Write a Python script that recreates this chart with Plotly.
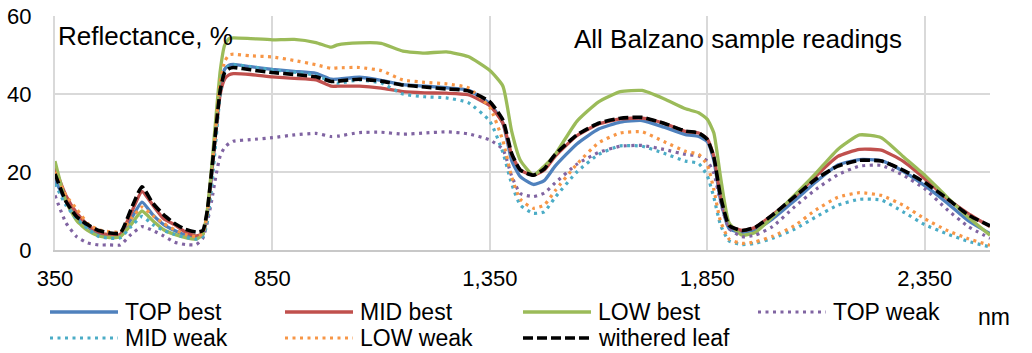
import plotly.graph_objects as go

# Wavelength grid, nm
wavelength = [350, 375, 400, 425, 450, 475, 500, 525, 550, 575, 600, 625, 650, 675,
              690, 700, 710, 720, 730, 740, 750,
              760, 800, 850, 900, 950, 985, 1000, 1050, 1100, 1150, 1200, 1250, 1300,
              1350, 1380, 1400, 1420, 1450, 1475, 1500, 1550, 1600, 1650, 1700, 1750,
              1800, 1830, 1850, 1865, 1880, 1900, 1930, 1960, 2000, 2050, 2100, 2150,
              2200, 2250, 2300, 2350, 2400, 2450, 2500]

# Reflectance, % — one list per sample
top_best = [18, 12.5, 8.5, 6, 4.2, 3.5, 3.6, 8, 12.3, 9, 6.5, 5, 3.8, 3.3,
            4, 9, 19, 31, 42, 46.3, 47.4,
            47.6, 47, 46.3, 45.8, 45.3, 43.8, 43.8, 44.3, 43.5, 42.4, 42, 41.6, 41,
            37.5, 32.5, 23, 18.8, 16.8, 17.8, 21.5, 27.2, 31, 32.8, 33.2, 31.5,
            29.6, 29.1, 27.8, 23, 13, 5.5, 4.5, 5.2, 8, 12.6, 17.5, 21.8,
            23.2, 22.9, 20.2, 16.5, 12.2, 7.5, 4.2]

mid_best = [21, 14, 9.5, 6.5, 4.6, 3.9, 4, 9.5, 15, 11.5, 8, 6.5, 4.6, 3.6,
            4.2, 9.5, 19.5, 30.5, 40, 43.8, 44.9,
            45.2, 45, 44.4, 44, 43.6, 42, 42, 42, 41.5, 40.6, 40.3, 40.2, 39.8,
            37, 32.5, 24.5, 20.5, 19.2, 20.5, 24, 29.3, 32.3, 33.6, 33.8, 32.5,
            30.4, 30, 28.5, 24, 14, 6.3, 5, 5.8, 9, 13.6, 19, 24,
            25.8, 25.6, 22.8, 18.3, 13.3, 9.3, 6]

low_best = [22.8, 12.5, 7.5, 5, 3.6, 3.2, 3.4, 6.5, 10, 7.5, 5.2, 4, 3.2, 2.8,
            4, 10, 21, 34, 46, 52.5, 54.2,
            54.4, 54.2, 53.9, 54, 53.2, 52, 52.6, 53.1, 53, 51, 50.5, 50.8, 49.6,
            46, 42, 30.5, 23, 19.2, 21.5, 24.5, 33, 38, 40.6, 40.9, 38.8,
            36.2, 35.2, 33.5, 30, 19, 7, 3.8, 4.5, 8.5, 14, 19.7, 25.8,
            29.5, 28.8, 24, 19.2, 13.7, 8.4, 3.8]

top_weak = [14, 7, 3.4, 1.8, 1.3, 1.3, 1.3, 4, 6, 5, 3.6, 2, 1.4, 1.4,
            3, 7, 12.5, 19, 24.2, 26.3, 27.3,
            27.9, 28.3, 28.8, 29.5, 29.9, 29.1, 29.2, 30.1, 30.2, 29.7, 30, 30.3, 29.8,
            28.2, 25.8, 19, 14.5, 13.7, 14.6, 17.2, 22, 25, 26.6, 26.8, 25.8,
            24.5, 24.1, 22.8, 19.7, 12.5, 5.5, 3.4, 3.8, 6, 11, 15.6, 19.3,
            21.5, 21.7, 19.2, 15.7, 10.5, 6, 3]

mid_weak = [17, 11.5, 8, 5.5, 3.5, 3, 3.1, 6, 8.6, 6.5, 5, 4, 3.2, 2.8,
            3.5, 7, 16, 28, 40, 45.5, 47.2,
            47.5, 47, 46.2, 45.6, 44.8, 43.2, 42.8, 43.6, 42.8, 40, 39.3, 39, 37.8,
            33, 25, 17, 11.5, 9.4, 9.8, 13.5, 20, 24.5, 26.7, 26.6, 24.8,
            22.8, 22.2, 19, 13.5, 6.5, 2.3, 1.4, 1.7, 3, 5.3, 8.5, 11.5,
            13, 12.8, 9.8, 6.5, 4.2, 2.2, 0.8]

low_weak = [20, 14, 10.5, 6.8, 5.2, 4.7, 4.6, 8, 11, 8.8, 6.8, 5.2, 4, 3.4,
            4.2, 9, 19.5, 31.5, 43, 48.3, 50,
            50.2, 49.8, 49.5, 48.6, 47.5, 46.6, 46.7, 46.8, 46, 43.6, 43, 42.6, 41.6,
            36.5, 28, 18.8, 13, 10.7, 11.5, 15.2, 22, 27.5, 30, 30.3, 27.8,
            25.3, 24.5, 21.8, 15.5, 7.5, 2.8, 1.7, 2.1, 3.5, 6.2, 10.3, 13.5,
            14.7, 14, 11.5, 8, 5.1, 2.9, 1.2]

withered_leaf = [19.5, 12.5, 8.5, 6.5, 5, 4.4, 4.3, 10.5, 16.2, 12, 9, 6.8, 5.3, 4.6,
                 5, 10, 20, 31, 41, 45.5, 46.5,
                 46.8, 46.2, 45.5, 45, 44.4, 43.2, 43.3, 43.8, 43.3, 42.3, 41.8, 41.3, 40.8,
                 38, 33.3, 24.8, 20.5, 19.2, 20.8, 24.5, 29.5, 32.5, 33.8, 34, 32.5,
                 30.5, 30, 28.3, 23.8, 14, 6.3, 5, 5.8, 9, 13.6, 18.2, 21.5,
                 23, 22.8, 20.5, 17.3, 13.3, 9, 6.2]

series_names = ["TOP best", "MID best", "LOW best", "TOP weak",
                "MID weak", "LOW weak", "withered leaf"]
x_ticks = [350, 850, 1350, 1850, 2350]
y_ticks = [0, 20, 40, 60]

series_values = [top_best, mid_best, low_best, top_weak, mid_weak, low_weak, withered_leaf]
for vals in series_values:
    assert len(vals) == len(wavelength)

styles = [
    dict(color="#4F81BD", width=3.3, dash="solid"),
    dict(color="#C0504D", width=3.3, dash="solid"),
    dict(color="#9BBB59", width=3.3, dash="solid"),
    dict(color="#8064A2", width=3.2, dash="3px,4.5px"),
    dict(color="#4BACC6", width=3.2, dash="3px,4.5px"),
    dict(color="#F79646", width=3.2, dash="3px,4.5px"),
    dict(color="#000000", width=3.6, dash="10px,4px"),
]

W, H = 1032, 353
L, R, T, B = 55, 42, 16, 103
PW, PH = W - L - R, H - T - B
FONT = "Liberation Sans, Arial, sans-serif"


def xp(px):
    return (px - L) / PW


def yp(py):
    return (H - B - py) / PH


fig = go.Figure()
for name, vals, st in zip(series_names, series_values, styles):
    fig.add_trace(go.Scatter(
        x=wavelength, y=vals, name=name, mode="lines",
        line=dict(color=st["color"], width=st["width"], dash=st["dash"],
                  shape="spline", smoothing=0.5),
        showlegend=False,
    ))

# Legend drawn as two rows of sample lines and labels below the axis
legend_cols = [50, 285, 523, 758]
legend_rows = [312, 338]
shapes = []
annotations = []
for i, (name, st) in enumerate(zip(series_names, styles)):
    row, col = divmod(i, 4)
    x0 = legend_cols[col]
    yy = legend_rows[row]
    shapes.append(dict(type="line", xref="paper", yref="paper",
                       x0=xp(x0), x1=xp(x0 + 68), y0=yp(yy), y1=yp(yy),
                       line=dict(color=st["color"], width=st["width"], dash=st["dash"])))
    annotations.append(dict(text=name, xref="paper", yref="paper",
                            x=xp(x0 + 73), y=yp(yy), xanchor="left", yanchor="middle",
                            showarrow=False, font=dict(family=FONT, size=23, color="#000")))

annotations.append(dict(text="nm", xref="paper", yref="paper",
                        x=xp(976), y=yp(317), xanchor="left", yanchor="middle",
                        showarrow=False, font=dict(family=FONT, size=23, color="#000")))
annotations.append(dict(text="Reflectance, %", xref="paper", yref="paper",
                        x=xp(56), y=yp(36), xanchor="left", yanchor="middle",
                        showarrow=False, font=dict(family=FONT, size=26, color="#000")))
annotations.append(dict(text="All Balzano sample readings", xref="paper", yref="paper",
                        x=xp(572), y=yp(38.5), xanchor="left", yanchor="middle",
                        showarrow=False, font=dict(family=FONT, size=26, color="#000")))

fig.update_layout(
    width=W, height=H,
    margin=dict(l=L, r=R, t=T, b=B, pad=0, autoexpand=False),
    paper_bgcolor="white", plot_bgcolor="white",
    showlegend=False,
    font=dict(family=FONT, size=22, color="#000"),
    shapes=shapes, annotations=annotations,
)
fig.update_xaxes(
    range=[350, 2500], tickvals=x_ticks, tickformat=",d",
    showgrid=True, gridcolor="#D9D9D9", gridwidth=2,
    showline=True, linecolor="#C8C8C8", linewidth=2,
    zeroline=False, ticks="", ticklabelstandoff=8, automargin=False,
    tickfont=dict(family=FONT, size=22, color="#000"),
)
fig.update_yaxes(
    range=[0, 60], tickvals=y_ticks,
    showgrid=True, gridcolor="#D9D9D9", gridwidth=2,
    showline=True, linecolor="#D9D9D9", linewidth=2,
    zeroline=False, ticks="", ticklabelstandoff=17, automargin=False,
    tickfont=dict(family=FONT, size=22, color="#000"),
)

fig.write_html("out.html")
